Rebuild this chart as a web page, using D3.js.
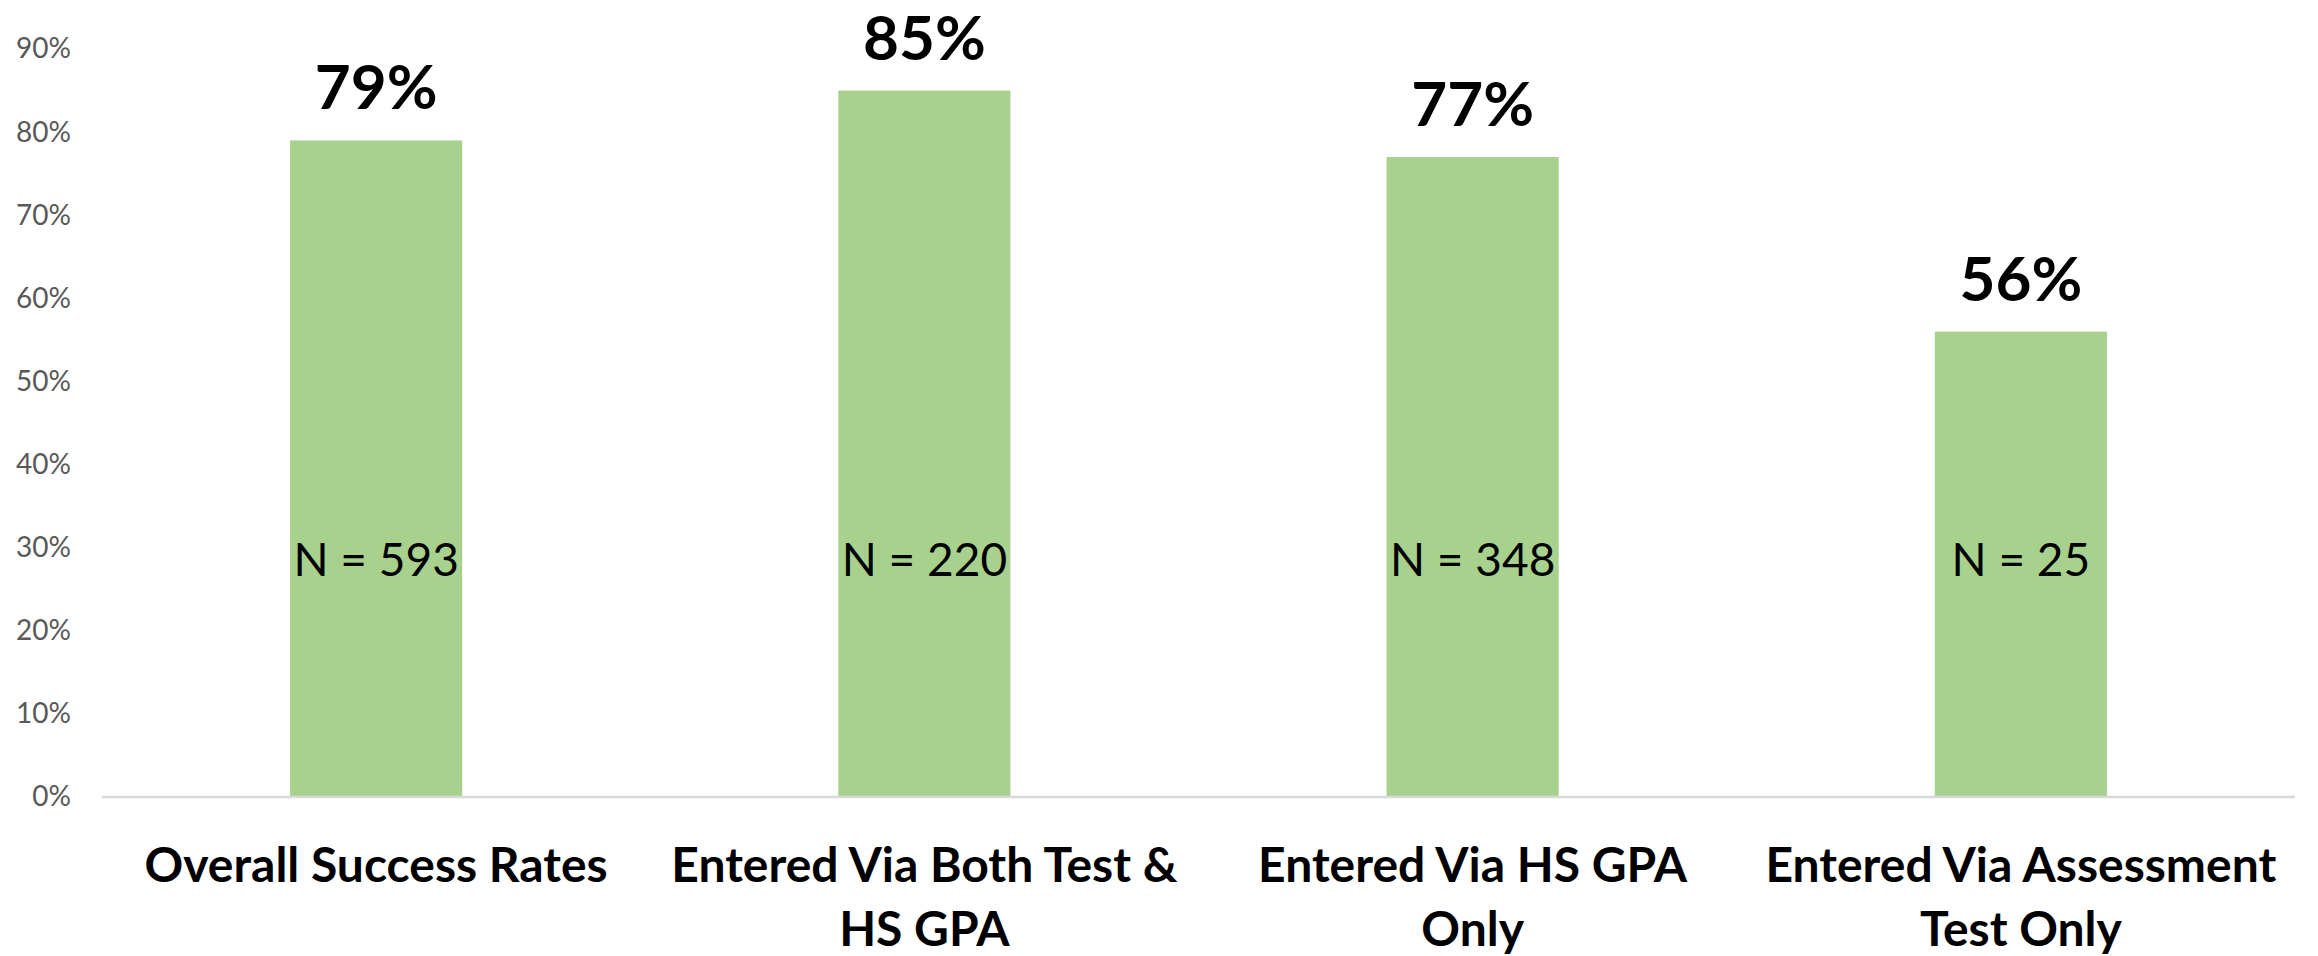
<!DOCTYPE html>
<html>
<head>
<meta charset="utf-8">
<script src="https://cdn.jsdelivr.net/npm/d3@7"></script>
<style>
  body { margin: 0; background: #fff; }
  svg { display: block; font-family: Lato, "Open Sans", sans-serif; }
</style>
</head>
<body>
<svg width="2318" height="956"></svg>
<script>
const categories = [
    'Overall Success Rates',
    'Entered Via Both Test &\nHS GPA',
    'Entered Via HS GPA\nOnly',
    'Entered Via Assessment\nTest Only'
];
const rates = [0.79, 0.85, 0.77, 0.56];
const counts = [593, 220, 348, 25];
const yTicks = [0, 0.1, 0.2, 0.3, 0.4, 0.5, 0.6, 0.7, 0.8, 0.9];

const svg = d3.select('svg');
const plotLeft = 102, plotRight = 2295, plotTop = 49, plotBottom = 797;

const x = d3.scaleBand()
    .domain(categories)
    .range([plotLeft, plotRight])
    .paddingInner(0.686)
    .paddingOuter(0.343);

const y = d3.scaleLinear()
    .domain([0, 0.9])
    .range([plotBottom, plotTop]);

// y axis labels, no line
const yAxis = svg.append('g')
    .attr('transform', `translate(${plotLeft},0)`)
    .call(d3.axisLeft(y).tickValues(yTicks).tickFormat(d3.format('.0%')).tickSize(0).tickPadding(31));
yAxis.select('.domain').remove();
yAxis.selectAll('text')
    .attr('font-size', 28)
    .attr('font-family', 'Lato, sans-serif')
    .attr('fill', '#595959');

// bars
svg.append('g')
    .selectAll('rect')
    .data(rates)
    .enter()
    .append('rect')
    .attr('x', (d, i) => x(categories[i]))
    .attr('y', d => y(d))
    .attr('width', x.bandwidth())
    .attr('height', d => y(0) - y(d))
    .attr('fill', '#a9d18e');

// baseline
svg.append('line')
    .attr('x1', plotLeft)
    .attr('x2', plotRight)
    .attr('y1', y(0))
    .attr('y2', y(0))
    .attr('stroke', '#d9d9d9')
    .attr('stroke-width', 2.5);

// value labels
svg.append('g')
    .selectAll('text')
    .data(rates)
    .enter()
    .append('text')
    .attr('x', (d, i) => x(categories[i]) + x.bandwidth() / 2)
    .attr('y', d => y(d) - 31)
    .attr('text-anchor', 'middle')
    .attr('font-size', 62)
    .attr('font-weight', 'bold')
    .attr('fill', '#000')
    .text(d3.format('.0%'));

// N labels
svg.append('g')
    .selectAll('text')
    .data(counts)
    .enter()
    .append('text')
    .attr('x', (d, i) => x(categories[i]) + x.bandwidth() / 2)
    .attr('y', 576)
    .attr('text-anchor', 'middle')
    .attr('font-size', 46)
    .attr('fill', '#000')
    .text(d => 'N = ' + d);

// category labels
const cat = svg.append('g')
    .selectAll('text')
    .data(categories)
    .enter()
    .append('text')
    .attr('x', d => x(d) + x.bandwidth() / 2)
    .attr('y', 882)
    .attr('text-anchor', 'middle')
    .attr('font-size', 48)
    .attr('font-weight', 'bold')
    .attr('fill', '#000');
cat.selectAll('tspan')
    .data(d => d.split('\n'))
    .enter()
    .append('tspan')
    .attr('x', function () { return this.parentNode.getAttribute('x'); })
    .attr('dy', (d, i) => i === 0 ? 0 : 64)
    .text(d => d);
</script>
</body>
</html>
